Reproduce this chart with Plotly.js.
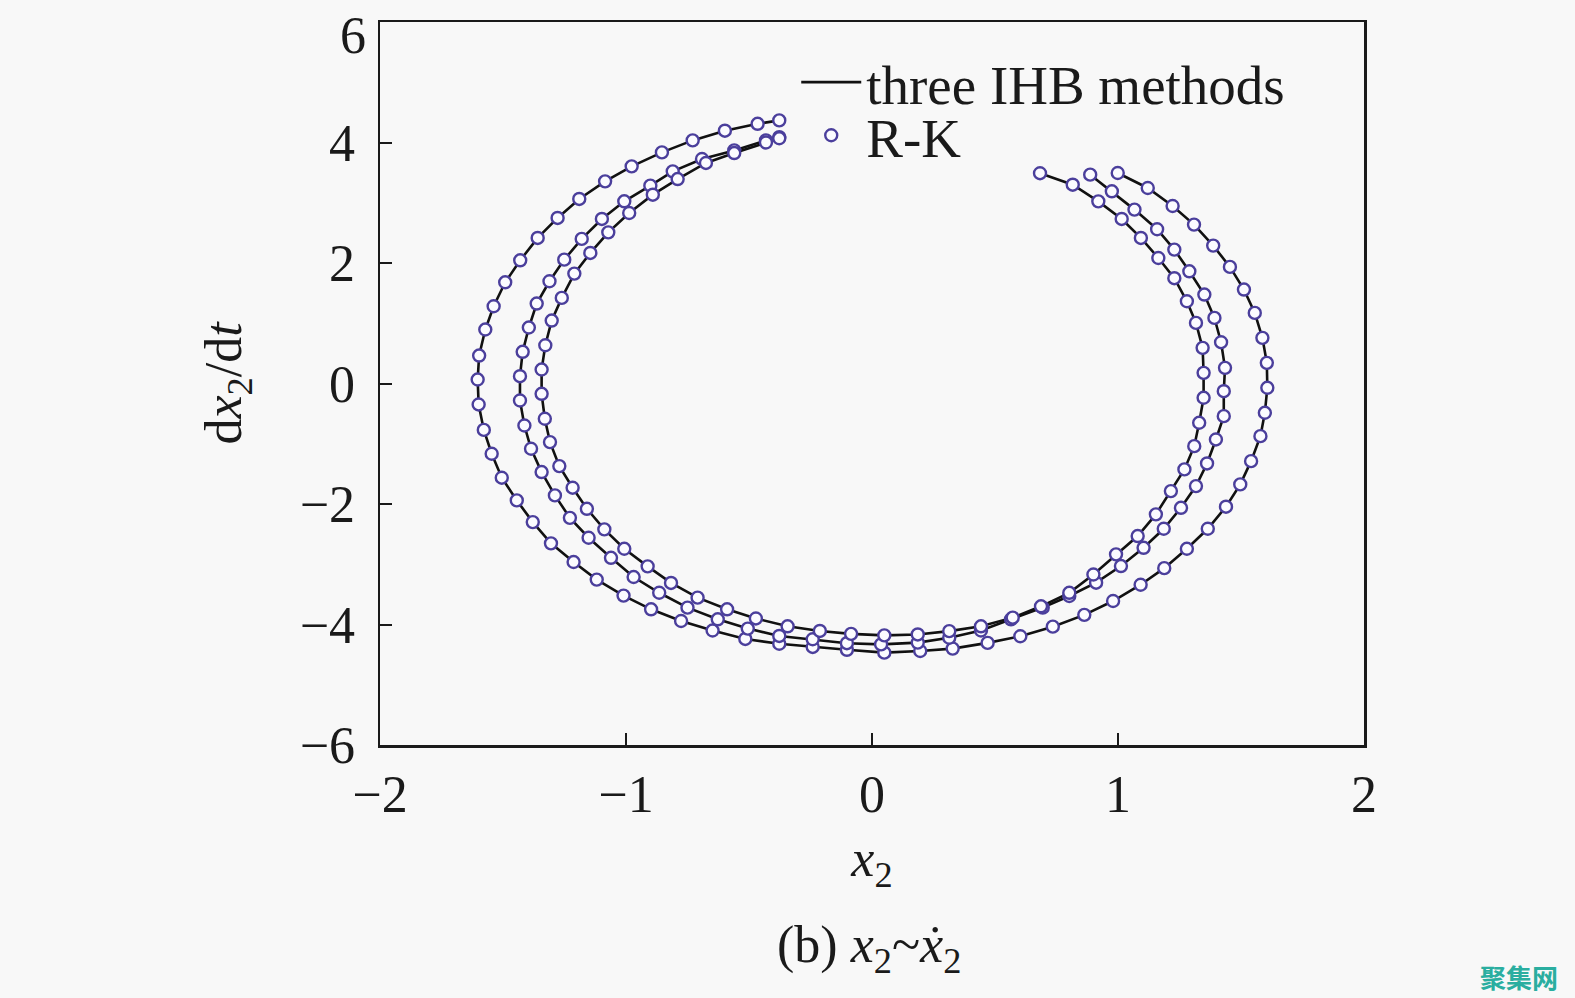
<!DOCTYPE html>
<html>
<head>
<meta charset="utf-8">
<script src="https://cdn.plot.ly/plotly-3.0.1.min.js"></script>
<style>html,body{margin:0;padding:0;background:#f8f8f8;}#chart{width:1575px;height:998px;}</style>
</head>
<body>
<div id="chart"></div>
<script>
// Orbit A (outer)
const xA = [-0.377,-0.465,-0.598,-0.729,-0.854,-0.977,-1.085,-1.19,-1.278,-1.359,-1.43,-1.491,-1.538,-1.572,-1.597,-1.603,-1.599,-1.578,-1.546,-1.505,-1.444,-1.379,-1.305,-1.213,-1.119,-1.01,-0.898,-0.776,-0.648,-0.515,-0.377,-0.241,-0.102,0.05,0.196,0.328,0.47,0.603,0.735,0.863,0.98,1.092,1.188,1.28,1.365,1.439,1.497,1.541,1.579,1.597,1.607,1.605,1.587,1.556,1.512,1.455,1.387,1.309,1.222,1.121,0.999];
const yA = [4.367,4.31,4.196,4.035,3.836,3.604,3.355,3.063,2.748,2.416,2.045,1.68,1.282,0.896,0.464,0.066,-0.348,-0.77,-1.166,-1.564,-1.94,-2.3,-2.653,-2.963,-3.255,-3.52,-3.748,-3.942,-4.1,-4.24,-4.32,-4.373,-4.42,-4.467,-4.44,-4.4,-4.305,-4.195,-4.036,-3.84,-3.61,-3.34,-3.065,-2.743,-2.411,-2.045,-1.675,-1.289,-0.874,-0.486,-0.071,0.343,0.758,1.172,1.559,1.935,2.289,2.637,2.946,3.245,3.494];
// Orbit B (middle)
const xB = [-0.377,-0.431,-0.56,-0.691,-0.81,-0.901,-1.007,-1.098,-1.18,-1.251,-1.311,-1.363,-1.395,-1.42,-1.431,-1.431,-1.413,-1.386,-1.343,-1.289,-1.228,-1.152,-1.061,-0.969,-0.865,-0.75,-0.627,-0.505,-0.377,-0.241,-0.102,0.037,0.186,0.314,0.443,0.565,0.694,0.802,0.911,1.012,1.104,1.186,1.256,1.317,1.362,1.398,1.43,1.43,1.435,1.419,1.392,1.351,1.29,1.229,1.159,1.067,0.975,0.887];
const yB = [4.09,4.035,3.869,3.726,3.521,3.284,3.024,2.731,2.4,2.056,1.697,1.327,0.929,0.526,0.121,-0.282,-0.697,-1.083,-1.47,-1.857,-2.23,-2.56,-2.893,-3.212,-3.473,-3.72,-3.914,-4.068,-4.19,-4.245,-4.31,-4.33,-4.3,-4.22,-4.1,-3.914,-3.72,-3.527,-3.306,-3.03,-2.727,-2.411,-2.063,-1.703,-1.327,-0.929,-0.542,-0.128,0.26,0.685,1.089,1.476,1.862,2.222,2.56,2.886,3.19,3.466];
// Orbit C (inner)
const xC = [-0.377,-0.431,-0.56,-0.675,-0.79,-0.891,-0.987,-1.072,-1.145,-1.21,-1.261,-1.302,-1.328,-1.343,-1.343,-1.33,-1.309,-1.271,-1.217,-1.159,-1.088,-1.007,-0.912,-0.817,-0.709,-0.589,-0.472,-0.343,-0.212,-0.085,0.05,0.186,0.314,0.443,0.572,0.687,0.802,0.9,0.992,1.08,1.154,1.215,1.27,1.31,1.33,1.348,1.348,1.344,1.317,1.28,1.229,1.164,1.093,1.015,0.92,0.816,0.683];
const yC = [4.07,4.0,3.825,3.66,3.393,3.134,2.83,2.509,2.167,1.824,1.421,1.045,0.635,0.232,-0.171,-0.585,-0.973,-1.371,-1.73,-2.08,-2.421,-2.743,-3.035,-3.31,-3.554,-3.748,-3.9,-4.03,-4.107,-4.155,-4.18,-4.165,-4.11,-4.03,-3.886,-3.698,-3.474,-3.17,-2.836,-2.532,-2.172,-1.786,-1.426,-1.04,-0.652,-0.237,0.177,0.592,1.006,1.365,1.748,2.083,2.416,2.731,3.023,3.3,3.49];

const xTicks = [-2,-1,0,1,2];
const yTicks = [-6,-4,-2,0,2,4,6];
const yTickText = ['\u22126','\u22124','\u22122','0','2','4',''];
const topTickLabel = '6';
const lineName = 'three IHB methods';
const markerName = 'R-K';

const orbits = [[xA,yA],[xB,yB],[xC,yC]];
const traces = [];
orbits.forEach((o,i)=>{
  traces.push({x:o[0], y:o[1], type:'scatter', mode:'lines', name:lineName, legend:'legend', showlegend:i===0,
    line:{color:'#111111', width:2.6}});
});
orbits.forEach((o,i)=>{
  traces.push({x:o[0], y:o[1], type:'scatter', mode:'markers', name:markerName, legend:'legend2', showlegend:i===0,
    marker:{symbol:'circle', size:12, color:'#fbfbff', line:{color:'#4b3f9c', width:2.4}}});
});

const font = {family:'"Liberation Serif", "Times New Roman", serif', color:'#1a1a1a'};
const lf = Object.assign({}, font, {size:55});
const layout = {
  width:1575, height:998,
  paper_bgcolor:'#f8f8f8', plot_bgcolor:'#f8f8f8',
  margin:{l:380, r:211, t:22, b:253},
  showlegend:true,
  legend:{x:0.423, y:0.9165, xanchor:'left', yanchor:'middle', bgcolor:'rgba(0,0,0,0)', font:lf, itemwidth:60},
  legend2:{x:0.423, y:0.843, xanchor:'left', yanchor:'middle', bgcolor:'rgba(0,0,0,0)', font:lf, itemwidth:60},
  xaxis:{range:[-2,2], tickvals:xTicks, ticks:'inside', ticklen:12, tickwidth:2, tickcolor:'#1a1a1a',
    showline:true, linecolor:'#1a1a1a', linewidth:2.5, mirror:true, showgrid:false, zeroline:false,
    tickfont:Object.assign({}, font, {size:52}), ticklabelstandoff:2, ticklabeloverflow:'allow',
    title:{text:'<i>x</i><sub>2</sub>', font:Object.assign({}, font, {size:52}), standoff:18}},
  yaxis:{range:[-6,6], tickvals:yTicks, ticktext:yTickText, ticks:'inside', ticklen:12, tickwidth:2, tickcolor:'#1a1a1a',
    showline:true, linecolor:'#1a1a1a', linewidth:2.5, mirror:true, showgrid:false, zeroline:false,
    tickfont:Object.assign({}, font, {size:52}), ticklabelstandoff:12, ticklabeloverflow:'allow',
    title:{text:'d<i>x</i><sub>2</sub>/d<i>t</i>', font:Object.assign({}, font, {size:52}), standoff:42}},
  annotations:[
    {text:topTickLabel, xref:'paper', yref:'y', x:0, y:6, xanchor:'right', yanchor:'middle', xshift:-12, yshift:-13,
      showarrow:false, font:Object.assign({}, font, {size:52})},
    {text:'(b) <i>x</i><sub>2</sub>~<i>x\u0307</i><sub>2</sub>', xref:'paper', yref:'paper', x:0.497, y:-0.282,
      xanchor:'center', yanchor:'middle', showarrow:false, font:Object.assign({}, font, {size:52})},
    {text:'<b>聚集网</b>', xref:'paper', yref:'paper', x:1.199, y:-0.32, xanchor:'right', yanchor:'middle',
      showarrow:false, font:{family:'"Noto Sans CJK SC", sans-serif', size:26, color:'#2aaea0'}}
  ]
};
Plotly.newPlot('chart', traces, layout, {displayModeBar:false, staticPlot:true});
</script>
</body>
</html>
